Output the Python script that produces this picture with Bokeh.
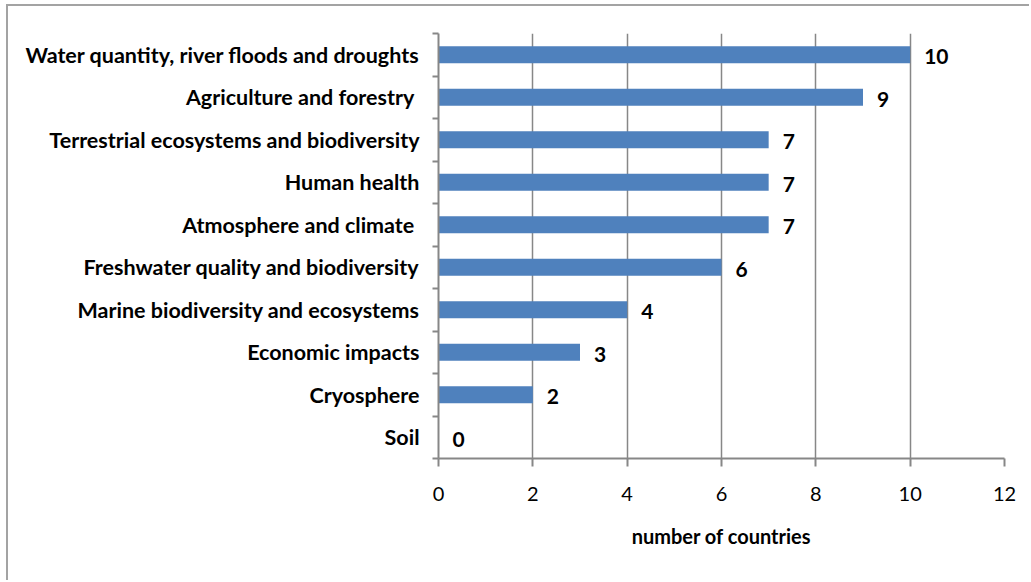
from bokeh.plotting import figure
from bokeh.models import Range1d, FixedTicker, LinearAxis
from bokeh.core.properties import value
from bokeh.embed import file_html
from bokeh.resources import INLINE

# Number of countries reporting indicators in each category
categories = [
    "Water quantity, river floods and droughts",
    "Agriculture and forestry ",
    "Terrestrial ecosystems and biodiversity",
    "Human health",
    "Atmosphere and climate ",
    "Freshwater quality and biodiversity",
    "Marine biodiversity and ecosystems",
    "Economic impacts",
    "Cryosphere",
    "Soil",
]
counts = [10, 9, 7, 7, 7, 6, 4, 3, 2, 0]
x_ticks = [0, 2, 4, 6, 8, 10, 12]

FONT = "Lato"
GREY = "#878787"
BAR = "#4f81bd"

n = len(categories)
ypos = [i + 0.5 for i in range(n)]

p = figure(
    width=1023, height=576,
    x_range=Range1d(0, 12), y_range=Range1d(n, 0),
    output_backend="svg", toolbar_location=None,
    x_axis_location=None, y_axis_location=None,
    min_border_left=430, min_border_right=27,
    min_border_top=27, min_border_bottom=124,
)
p.styles = {
    "margin-left": "6px", "margin-top": "4px",
    "border-left": "2px solid #a3a3a3", "border-top": "2px solid #a3a3a3",
}
p.outline_line_color = None
p.background_fill_color = "white"
p.border_fill_color = "white"

# horizontal bars
p.hbar(y=ypos, right=counts, left=0, height=0.4, color=BAR, line_color=None)

# value labels at bar ends
p.text(x=counts, y=ypos, text=[str(c) for c in counts],
       x_offset=14, y_offset=2, text_baseline="middle", text_align="left",
       text_font=value(FONT), text_font_style="bold",
       text_font_size="21px", text_color="black")

# category axis: ticks between bars, labels at bar centres
yaxis = LinearAxis(
    ticker=FixedTicker(ticks=ypos, minor_ticks=list(range(n + 1))),
    major_label_overrides={y: c for y, c in zip(ypos, categories)},
)
yaxis.axis_line_color = GREY
yaxis.axis_line_width = 2
yaxis.major_tick_line_color = None
yaxis.minor_tick_line_color = GREY
yaxis.minor_tick_line_width = 2
yaxis.minor_tick_out = 6
yaxis.minor_tick_in = 0
yaxis.major_label_standoff = 13
yaxis.major_label_text_font = FONT
yaxis.major_label_text_font_style = "bold"
yaxis.major_label_text_font_size = "21.5px"
yaxis.major_label_text_color = "black"
p.add_layout(yaxis, "left")

xaxis = LinearAxis(ticker=FixedTicker(ticks=x_ticks), axis_label="number of countries")
xaxis.axis_line_color = GREY
xaxis.axis_line_width = 2
xaxis.major_tick_line_color = GREY
xaxis.major_tick_line_width = 2
xaxis.major_tick_out = 8
xaxis.major_tick_in = 0
xaxis.minor_tick_line_color = None
xaxis.major_label_standoff = 20
xaxis.major_label_text_font = FONT
xaxis.major_label_text_font_size = "20px"
xaxis.major_label_text_color = "black"
xaxis.axis_label_standoff = 20
xaxis.axis_label_text_font = FONT
xaxis.axis_label_text_font_style = "bold"
xaxis.axis_label_text_font_size = "20px"
xaxis.axis_label_text_color = "black"
p.add_layout(xaxis, "below")

p.xgrid.ticker = FixedTicker(ticks=x_ticks)
p.xgrid.grid_line_color = GREY
p.xgrid.grid_line_width = 1.5
p.ygrid.grid_line_color = None

open("out.html", "w").write(file_html(p, INLINE))
